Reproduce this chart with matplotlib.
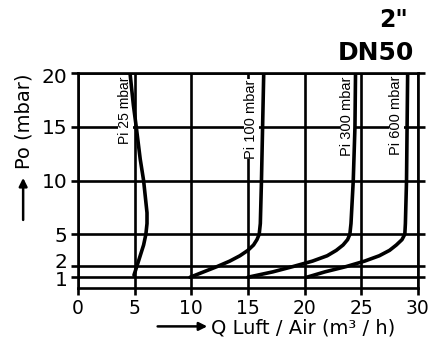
import matplotlib
matplotlib.use("Agg")
from matplotlib import pyplot as plt

plt.rcParams['font.family'] = ['DejaVu Sans']

# curves: Po (mbar) vs Q (m3/h)
po_25 = [20, 17, 15, 12, 10, 8, 7, 6, 5, 4, 3, 2, 1.2]
q_25 = [4.6, 4.9, 5.15, 5.5, 5.8, 6.0, 6.1, 6.1, 6.0, 5.8, 5.5, 5.2, 4.95]

po_100 = [20, 15, 10, 6, 5, 4.5, 4, 3.5, 3, 2.5, 2, 1.5, 1]
q_100 = [16.4, 16.3, 16.2, 16.1, 16.0, 15.8, 15.5, 15.0, 14.3, 13.4, 12.3, 11.1, 9.9]

po_300 = [20, 15, 10, 6, 5, 4.5, 4, 3.5, 3, 2.5, 2, 1.5, 1]
q_300 = [24.5, 24.45, 24.3, 24.1, 24.0, 23.8, 23.4, 22.8, 22.0, 20.7, 19.0, 17.2, 15.0]

po_600 = [20, 15, 10, 6, 5, 4.5, 4, 3.5, 3, 2.5, 2, 1.5, 1]
q_600 = [29.1, 29.05, 29.0, 28.9, 28.85, 28.6, 28.1, 27.5, 26.6, 25.3, 23.7, 21.8, 20.2]

curve_labels = ["Pi 25 mbar", "Pi 100 mbar", "Pi 300 mbar", "Pi 600 mbar"]
label_x = [4.2, 15.3, 23.75, 28.1]
label_y = [16.5, 15.7, 16.0, 16.1]
label_size = [10, 10.5, 10.5, 10.5]

xticks = [0, 5, 10, 15, 20, 25, 30]
yticks = [1, 2, 5, 10, 15, 20]
ytick_text = ["1", "2", "5", "10", "15", "20"]
ytick_nudge = [-0.35, 0.35, -0.2, -0.15, -0.2, -0.45]  # labels sit a bit off the lines in the scan

fig = plt.figure(figsize=(4.45, 3.4), dpi=100)
ax = fig.add_axes([0.175, 0.153, 0.764, 0.632])

for x in xticks:
    ax.axvline(x, color='black', lw=1.9, zorder=1)
for y in yticks:
    ax.axhline(y, color='black', lw=1.9, zorder=1)

for q, po in [(q_25, po_25), (q_100, po_100), (q_300, po_300), (q_600, po_600)]:
    ax.plot(q, po, color='black', lw=2.6, solid_capstyle='round', zorder=3)

for txt, lx, ly, fs in zip(curve_labels, label_x, label_y, label_size):
    ax.text(lx, ly, txt, rotation=90, ha='center', va='center', fontsize=fs,
            family='Liberation Sans',
            bbox=dict(facecolor='white', edgecolor='none', pad=0.3), zorder=2)

ax.set_xlim(0, 30)
ax.set_ylim(0, 20)
ax.set_xticks(xticks)
ax.set_yticks(yticks)
ax.set_yticklabels([])
ax.tick_params(axis='both', direction='out', length=5, width=1.9, labelsize=13.5)
ax.tick_params(axis='x', pad=3)
ax.tick_params(axis='y', right=True)
for s in ax.spines.values():
    s.set_linewidth(1.9)

for y, t, dy in zip(yticks, ytick_text, ytick_nudge):
    ax.text(-0.03, y + dy, t, transform=ax.get_yaxis_transform(),
            ha='right', va='center', fontsize=14.5)

# axis titles with arrows, as in the scan
fig.text(0.055, 0.644, "Po (mbar)", rotation=90, fontsize=14, ha='center', va='center')
ax.annotate("", xy=(0.052, 0.485), xytext=(0.052, 0.345), xycoords='figure fraction',
            arrowprops=dict(arrowstyle='-|>', color='black', lw=1.8, mutation_scale=12))
fig.text(0.474, 0.036, u"Q Luft / Air (m\u00b3 / h)", fontsize=14, ha='left', va='center')
ax.annotate("", xy=(0.472, 0.04), xytext=(0.348, 0.04), xycoords='figure fraction',
            arrowprops=dict(arrowstyle='-|>', color='black', lw=1.8, mutation_scale=12))

fig.text(0.885, 0.94, u'2"', fontsize=17, fontweight='bold', ha='center', va='center')
fig.text(0.845, 0.845, "DN50", fontsize=18, fontweight='bold', ha='center', va='center')

plt.savefig('out.png', dpi=100)
